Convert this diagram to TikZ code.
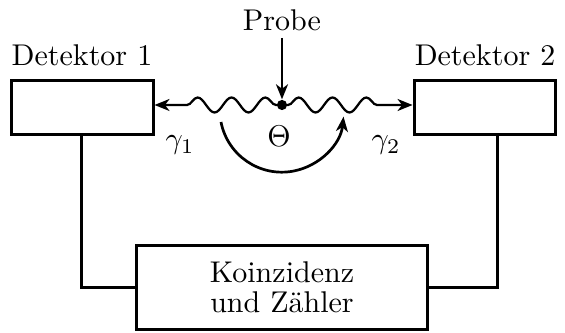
\documentclass[tikz,border=0pt]{standalone}
\usetikzlibrary{arrows.meta,decorations.pathmorphing,calc}
\begin{document}
\begin{tikzpicture}[x=0.3333pt,y=-0.3333pt,
  box/.style={draw,line width=1pt,inner sep=0pt},
  wire/.style={line width=1pt},
  wave/.style={line width=0.75pt,decorate,decoration={snake,segment length=11.3pt,amplitude=2.5pt,pre length=2pt,post length=8pt},-{Stealth[length=5pt,width=4pt,inset=1.5pt]}},
  arr/.style={line width=0.85pt,-{Stealth[length=5pt,width=4pt,inset=1.5pt]}}]
\useasboundingbox (0,0) rectangle (565,333);
\node[box,minimum width=47pt,minimum height=18.3pt] (d1) at (82.5,107.5) {};
\node[box,minimum width=47.3pt,minimum height=18.3pt] (d2) at (485,107.5) {};
\node[box,minimum width=97.3pt,minimum height=27.7pt,align=center] (k) at (282,287.5) {Koinzidenz\\[-2pt]und Zähler};
\node (t1) at (82,55) {Detektor 1};
\node (t2) at (485,55) {Detektor 2};
\node (p) at (282,20) {Probe};
\node (th) at (279,136) {$\Theta$};
\node (g1) at (180,145) {$\gamma_1$};
\node (g2) at (386,145) {$\gamma_2$};
\node[circle,fill,inner sep=0pt,minimum size=3.4pt] (c) at (282,105) {};
\coordinate (ps) at (282,38);
\draw[arr] (ps) -- (c.north);
\draw[wave,decoration={mirror}] (c.center) -- (d1.east |- c);
\draw[wave] (c.center) -- (d2.west |- c);
\coordinate (a1) at (221,122);
\draw[arr,line width=0.9pt] (a1) arc[start angle=169,end angle=6,radius=62];
\draw[wire] (d1.south -| 81,0) |- (k.west);
\draw[wire] (d2.south -| 497,0) |- (k.east);
\end{tikzpicture}
\end{document}
